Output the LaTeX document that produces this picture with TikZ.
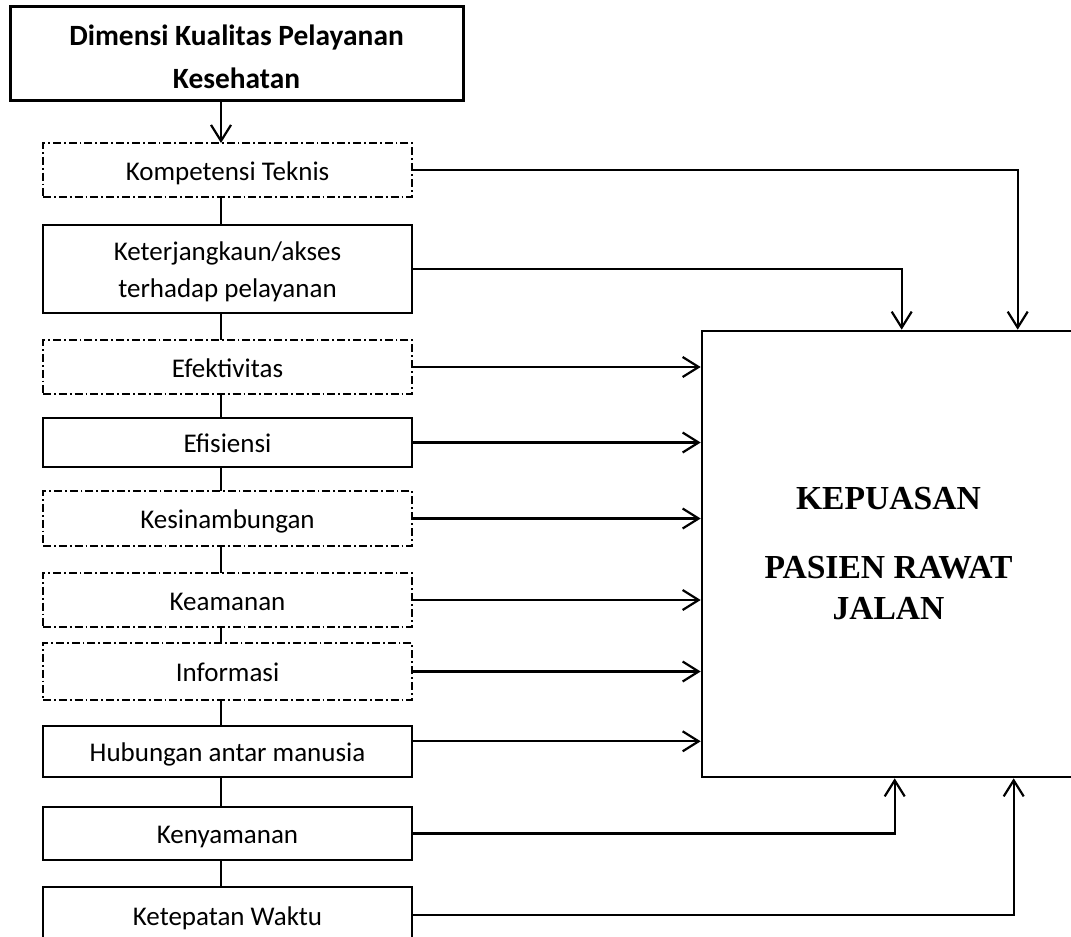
\documentclass[tikz,border=0pt]{standalone}
\usepackage{fontspec}
\setmainfont{Carlito}
\newfontfamily\timesfont{Liberation Serif}
\usetikzlibrary{arrows.meta,positioning,calc}
\tikzset{
    dimbox/.style={
        draw,
        rectangle,
        line width=0.75pt,
        outer sep=0pt,
        minimum width=184.5pt,
        text height=13pt,
        text depth=3pt,
        align=center,
        font=\fontsize{13.5}{18.5}\selectfont
    },
    dimdash/.style={
        dimbox,
        dash pattern=on 4pt off 1.5pt on 0.9pt off 1.5pt
    },
    headbox/.style={
        draw,
        rectangle,
        line width=1.5pt,
        minimum width=226.5pt,
        minimum height=45.5pt,
        text height=37.5pt,
        text depth=3pt,
        align=center,
        font=\fontsize{14.7}{21}\selectfont\bfseries
    },
    goalbox/.style={
        draw,
        rectangle,
        line width=1.3pt,
        minimum width=186.5pt,
        minimum height=223pt,
        align=center,
        font=\timesfont\bfseries\fontsize{16.8}{20.5}\selectfont
    },
    link/.style={
        line width=1.1pt,
        >={Straight Barb[length=8pt,width=10pt]}
    },
    joint/.style={
        line width=0.9pt
    },
}

\begin{document}
\begin{tikzpicture}[x=0.5pt, y=-0.5pt]
    \useasboundingbox (0,0) rectangle (1071,937);
    % blocks
    \node[headbox] (dimensi) at (236.5,53.5) {Dimensi Kualitas Pelayanan\\Kesehatan};
    \node[dimdash, minimum height=27pt] (komp) at (227.5,170) {Kompetensi Teknis};
    \node[dimbox, minimum height=44pt, text height=31pt, below=14pt of komp] (akses) {Keterjangkaun/akses\\terhadap pelayanan};
    \node[dimdash, minimum height=27pt, below=13.5pt of akses] (efek) {Efektivitas};
    \node[dimbox, minimum height=24.5pt, below=12pt of efek] (efis) {Efisiensi};
    \node[dimdash, minimum height=27.5pt, below=12pt of efis] (kesin) {Kesinambungan};
    \node[dimdash, minimum height=27pt, below=13.5pt of kesin] (keam) {Keamanan};
    \node[dimdash, minimum height=28.5pt, below=8pt of keam] (info) {Informasi};
    \node[dimbox, minimum height=25.5pt, below=13pt of info] (hub) {Hubungan antar manusia};
    \node[dimbox, minimum height=26.5pt, below=15pt of hub] (nyaman) {Kenyamanan};
    \node[dimbox, minimum height=28pt, below=13.5pt of nyaman] (waktu) {Ketepatan Waktu};
    \node[goalbox] (goal) at (888.5,554) {KEPUASAN\\[14pt]PASIEN RAWAT\\JALAN};

    % coordinates
    \coordinate (spine) at (221,0);
    \coordinate (topa) at ($(goal.north west)+(201,0)$);
    \coordinate (topb) at ($(goal.north west)+(317,0)$);
    \coordinate (bota) at ($(goal.south west)+(194,0)$);
    \coordinate (botb) at ($(goal.south west)+(313,0)$);
    \coordinate (hubout) at ($(hub.south east)!0.7!(hub.north east)$);

    % lines
    \draw[link,->] (dimensi.south -| spine) -- (komp.north -| spine);
    \foreach \a/\b in {komp/akses,akses/efek,efek/efis,efis/kesin,kesin/keam,keam/info,info/hub,hub/nyaman,nyaman/waktu}
        \draw[joint] (\a.south -| spine) -- (\b.north -| spine);
    \draw[link,->] (komp.east) -| (topb);
    \draw[link,->] (akses.east) -| (topa);
    \foreach \n in {efek,efis,kesin,keam,info}
        \draw[link,->] (\n.east) -- (\n.east -| goal.west);
    \draw[link,->] (hubout) -- (hubout -| goal.west);
    \draw[link,->] (nyaman.east) -| (bota);
    \draw[link,->] (waktu.east) -| (botb);
\end{tikzpicture}
\end{document}
